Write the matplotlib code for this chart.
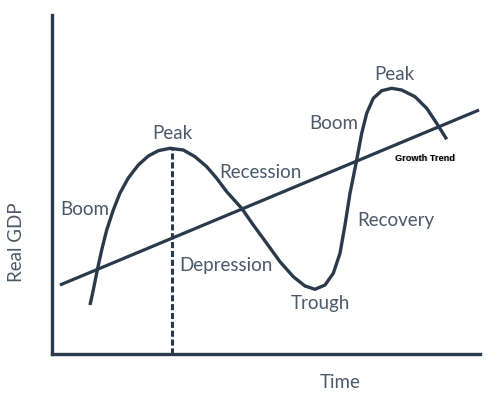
import matplotlib.pyplot as plt

# business cycle curve (pixel x, pixel y from the top)
cycle_x = [90, 93.3, 97.3, 101.7, 106.7, 113.3, 120, 128.3, 138.3, 148.3, 158.3, 170, 183.3,
           195, 206.7, 216.7, 226.7, 241.7, 253.3, 266.7, 280, 293.3, 305, 315, 325, 333.3,
           340, 345, 350, 356.7, 361.7, 366.7, 373.3, 381.7, 391.7, 401.7, 415, 426.7, 436.7,
           446.7]
cycle_y = [305, 290, 270, 250, 230, 210, 193, 178, 165, 156, 150.7, 148.3, 150,
           156.7, 166.7, 178.3, 191.7, 208.3, 225, 243.3, 261.7, 276.7, 286, 289.3, 285, 273.3,
           253.3, 225, 193.3, 160, 133.3, 113.3, 98.3, 90.7, 88.3, 90, 96.7, 108.3, 123.3,
           139.3]
trend_x = [60, 479]
trend_y = [285, 110]
peak_x = 172
peak_y = 148

labels = ["Peak", "Recession", "Boom", "Depression", "Trough", "Recovery", "Boom", "Peak"]
label_pos = [(172, 133), (219, 172), (60, 209), (179, 266), (320, 304), (357, 220), (358, 123), (394, 74)]
label_ha = ["center", "left", "left", "left", "center", "left", "right", "center"]

H = 397
dark = "#2b3a4a"
txt = "#4b5968"

fig = plt.figure(figsize=(4.98, 3.97), dpi=100)
ax = fig.add_axes([52 / 498, 43 / H, 428 / 498, 339 / H])
ax.set_xlim(52, 480)
ax.set_ylim(43, 382)
for s in ["top", "right"]:
    ax.spines[s].set_visible(False)
for s in ["left", "bottom"]:
    ax.spines[s].set_linewidth(2.4)
    ax.spines[s].set_color(dark)
ax.set_xticks([])
ax.set_yticks([])

flip = lambda ys: [H - y for y in ys]

ax.plot(trend_x, flip(trend_y), color=dark, lw=2.3, solid_capstyle="butt", clip_on=False)
ax.plot(cycle_x, flip(cycle_y), color=dark, lw=2.4, solid_capstyle="butt",
        solid_joinstyle="round", clip_on=False)
ax.plot([peak_x, peak_x], [43, H - peak_y], color=dark, lw=2.2, ls=(0, (2.0, 0.9)))

for lab, (x, y), ha in zip(labels, label_pos, label_ha):
    ax.text(x, H - y, lab, ha=ha, va="center", fontsize=13.5, color=txt,
            family="Lato", clip_on=False)

ax.text(425 + 0.6, H - 158 - 0.6, "Growth Trend", ha="center", va="center", fontsize=6.6,
        fontweight="bold", color="#bbbbbb", family="Liberation Sans", clip_on=False)
ax.text(425, H - 158, "Growth Trend", ha="center", va="center", fontsize=6.6,
        fontweight="bold", color="black", family="Liberation Sans", clip_on=False)

fig.text(17 / 498, 1 - 242 / H, "Real GDP", rotation=90, ha="center", va="center",
         fontsize=13.5, color=txt, family="Lato")
fig.text(340 / 498, 1 - 382 / H, "Time", ha="center", va="center",
         fontsize=13.5, color=txt, family="Lato")

fig.savefig("out.png", dpi=100, facecolor="white")
